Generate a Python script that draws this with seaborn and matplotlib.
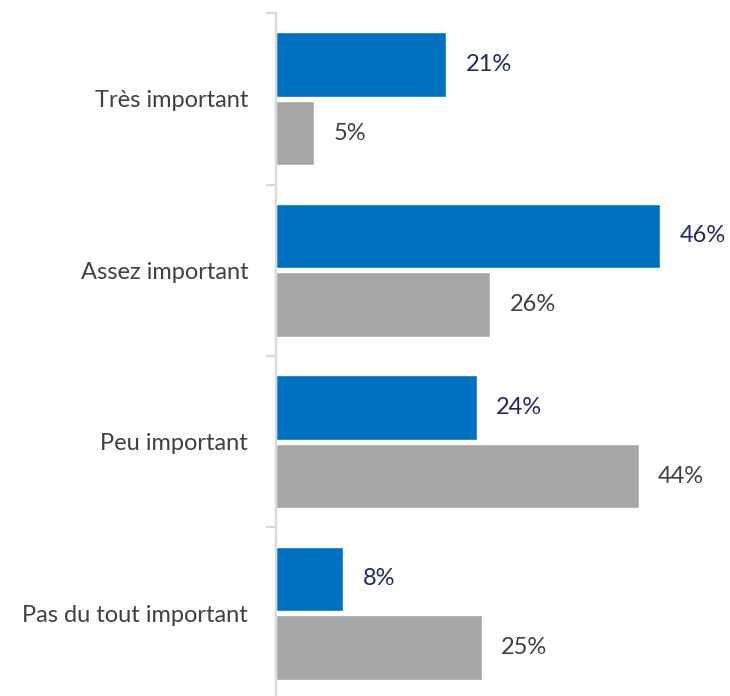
import numpy as np
import pandas as pd
import seaborn as sns
import matplotlib.pyplot as plt
from matplotlib.ticker import FixedLocator

# data
categories = ["Très important", "Assez important", "Peu important", "Pas du tout important"]
series = ["Série 1", "Série 2"]
values_blue = [20.5, 46.3, 24.2, 8.1]
values_gray = [4.6, 25.8, 43.7, 24.8]
labels_blue = ["21%", "46%", "24%", "8%"]
labels_gray = ["5%", "26%", "44%", "25%"]

df = pd.DataFrame({
    "categorie": categories * 2,
    "serie": [series[0]] * 4 + [series[1]] * 4,
    "valeur": values_blue + values_gray,
})

sns.set_style("white")
plt.rcParams["font.family"] = ["Lato", "DejaVu Sans"]

fig = plt.figure(figsize=(7.3, 6.96), dpi=100)
ax = fig.add_axes([0.378, -0.0043, 0.622, 0.9856])

sns.barplot(data=df, y="categorie", x="valeur", hue="serie", orient="h",
            palette=["#0070C0", "#A6A6A6"], width=0.8, gap=0.06,
            saturation=1, legend=False, ax=ax)

# value labels
for cont, labs, col in zip(ax.containers, [labels_blue, labels_gray], ["#1F2A66", "#404040"]):
    ax.bar_label(cont, labels=labs, padding=14, fontsize=17, color=col)

ax.set_xlim(0, 54.7)
ax.set_ylim(3.5, -0.5)
ax.set_xlabel("")
ax.set_ylabel("")
ax.set_xticks([])

for s in ["top", "right", "bottom"]:
    ax.spines[s].set_visible(False)
ax.spines["left"].set_color("#D9D9D9")
ax.spines["left"].set_linewidth(1.6)

ax.tick_params(axis="y", which="major", length=0, pad=20, labelsize=17, labelcolor="#404040")
ax.yaxis.set_minor_locator(FixedLocator([-0.5, 0.5, 1.5, 2.5, 3.5]))
ax.tick_params(axis="y", which="minor", length=7, width=1.6, color="#D9D9D9", left=True)

fig.savefig("out.png", dpi=100)
